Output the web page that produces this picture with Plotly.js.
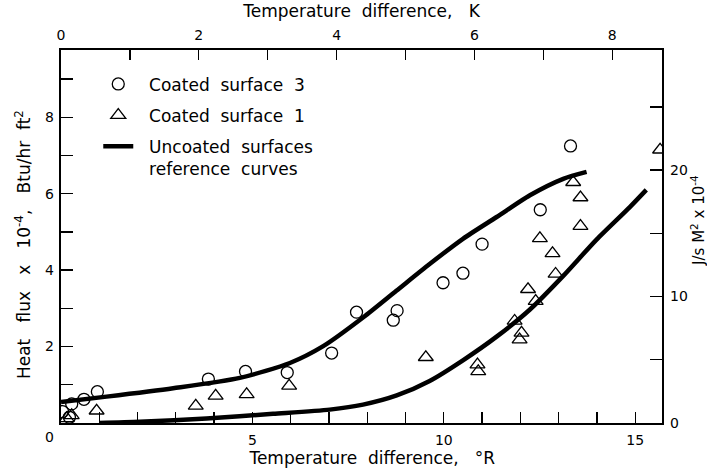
<!DOCTYPE html>
<html>
<head>
<meta charset="utf-8">
<script src="https://cdn.plot.ly/plotly-3.0.1.min.js"></script>
<style>html,body{margin:0;padding:0;background:#fff;}</style>
</head>
<body>
<div id="chart" style="width:707px;height:474px;"></div>
<script>
// Coated surface 3 (circles): temperature difference (°R), heat flux (x10^-4 Btu/hr ft2)
const s3X = [0.04, 0.22, 0.28, 0.60, 0.95, 3.85, 4.82, 5.91, 7.07, 7.72, 8.68, 8.78, 9.98, 10.50, 11.00, 12.52, 13.31];
const s3Y = [0.30, 0.15, 0.50, 0.62, 0.82, 1.15, 1.35, 1.32, 1.83, 2.90, 2.69, 2.94, 3.67, 3.92, 4.68, 5.58, 7.25];
// Coated surface 1 (triangles)
const s1X = [0.15, 0.28, 0.93, 3.52, 4.04, 4.85, 5.96, 9.53, 10.88, 10.90, 11.85, 11.98, 12.03, 12.20, 12.40, 12.51, 12.84, 12.92, 13.38, 13.57, 13.57, 15.65];
const s1Y = [0.12, 0.20, 0.32, 0.45, 0.71, 0.75, 0.97, 1.72, 1.53, 1.35, 2.67, 2.18, 2.36, 3.50, 3.19, 4.83, 4.44, 3.90, 6.30, 5.90, 5.15, 7.15];
// Uncoated surfaces reference curves
const upperX = [0, 1.19, 2.93, 4.67, 5.98, 6.85, 7.89, 8.76, 9.63, 10.50, 11.38, 12.25, 13.12, 13.73];
const upperY = [0.55, 0.69, 0.91, 1.18, 1.57, 2.01, 2.76, 3.46, 4.16, 4.82, 5.39, 5.96, 6.39, 6.57];
const lowerX = [1.0, 2.06, 3.80, 5.54, 7.02, 7.89, 8.77, 9.63, 10.50, 11.38, 12.25, 13.12, 13.99, 14.86, 15.29];
const lowerY = [0.0, 0.03, 0.12, 0.24, 0.35, 0.48, 0.72, 1.10, 1.64, 2.26, 2.97, 3.85, 4.80, 5.65, 6.10];

// Axis ticks
const xTicks = [0,1,2,3,4,5,6,7,8,9,10,11,12,13,14,15];
const xTickText = ['','','','','','5','','','','','10','','','','','15'];
const kTicks = [0,1,2,3,4,5,6,7,8];
const kTickText = ['0','','2','','4','','6','','8'];
const yTicks = [0,1,2,3,4,5,6,7,8,9];
const yTickText = ['','','2','','4','','6','','8',''];
const y2Ticks = [0,5,10,15,20,25];
const y2TickText = ['0','','10','','20',''];

const FONT = 'DejaVu Sans, sans-serif';
const xMax = 15.7;

const refX = upperX.concat([null], lowerX);
const refY = upperY.concat([null], lowerY);

const traces = [
  {x: s3X, y: s3Y, type: 'scatter', mode: 'markers', name: '&nbsp;&nbsp;Coated&nbsp; surface&nbsp; 3',
   legendgroup: 'a', marker: {symbol: 'circle-open', size: 12, color: '#000', line: {width: 1.3, color: '#000'}}},
  {x: s1X, y: s1Y, type: 'scatter', mode: 'markers', name: '&nbsp;&nbsp;Coated&nbsp; surface&nbsp; 1',
   legendgroup: 'b', marker: {symbol: 'triangle-up-open', size: 13, color: '#000', line: {width: 1.3, color: '#000'}}},
  {x: refX, y: refY, type: 'scatter', mode: 'lines', name: '&nbsp;&nbsp;Uncoated&nbsp; surfaces<br>&nbsp;&nbsp;reference&nbsp; curves',
   legendgroup: 'c', connectgaps: false, line: {color: '#000', width: 4.5, shape: 'spline', smoothing: 0.7}},
  {x: [], y: [], xaxis: 'x2', yaxis: 'y2', type: 'scatter', mode: 'markers', showlegend: false, hoverinfo: 'skip'}
];

const axCommon = {
  ticks: 'inside', tickcolor: '#000', tickwidth: 1.3, showline: true, linecolor: '#000', linewidth: 2.2,
  showgrid: false, zeroline: false, tickfont: {family: FONT, size: 14, color: '#000'}, fixedrange: true
};

const layout = {
  width: 707, height: 474,
  margin: {l: 61, r: 45, t: 50, b: 51},
  paper_bgcolor: '#fff', plot_bgcolor: '#fff',
  font: {family: FONT, color: '#000'},
  showlegend: true,
  legend: {x: 0.062, y: 0.956, xanchor: 'left', yanchor: 'top', bgcolor: 'rgba(0,0,0,0)',
    font: {family: FONT, size: 17, color: '#000'}, tracegroupgap: 6, valign: 'top', traceorder: 'grouped'},
  xaxis: Object.assign({}, axCommon, {
    range: [0, xMax], tickmode: 'array', tickvals: xTicks, ticktext: xTickText, ticklen: 11,
    ticklabelstandoff: 3,
    title: {text: '&nbsp;&nbsp;&nbsp;&nbsp;Temperature&nbsp; difference,&nbsp;&nbsp; °R', font: {family: FONT, size: 17, color: '#000'}, standoff: 3}
  }),
  xaxis2: Object.assign({}, axCommon, {
    overlaying: 'x', side: 'top', anchor: 'y', range: [0, xMax / 1.8], tickmode: 'array',
    tickvals: kTicks, ticktext: kTickText, ticklen: 10, ticklabelstandoff: 2,
    title: {text: 'Temperature&nbsp; difference,&nbsp;&nbsp; K', font: {family: FONT, size: 17, color: '#000'}, standoff: 5}
  }),
  yaxis: Object.assign({}, axCommon, {
    range: [0, 9.76], tickmode: 'array', tickvals: yTicks, ticktext: yTickText, ticklen: 12,
    ticklabelstandoff: 2,
    title: {text: 'Heat&nbsp;&nbsp; flux&nbsp;&nbsp; x&nbsp;&nbsp; 10<sup>-4</sup>,&nbsp;&nbsp; Btu/hr&nbsp; ft<sup>2</sup>&nbsp;&nbsp;&nbsp;', font: {family: FONT, size: 17, color: '#000'}, standoff: 10}
  }),
  yaxis2: Object.assign({}, axCommon, {
    overlaying: 'y', side: 'right', anchor: 'x', range: [0, 29.5], tickmode: 'array',
    tickvals: y2Ticks, ticktext: y2TickText, ticklen: 12, ticklabelstandoff: 3
  }),
  annotations: [
    {text: '0', xref: 'paper', yref: 'paper', x: (49 - 61) / 601, y: (423 - 437) / 371,
     showarrow: false, font: {family: FONT, size: 14, color: '#000'}, xanchor: 'center', yanchor: 'middle'},
    {text: 'J/s M<sup>2</sup> x 10<sup>-4</sup>', xref: 'paper', yref: 'paper', x: (698 - 61) / 601, y: (423 - 222) / 371,
     textangle: -90, showarrow: false, font: {family: FONT, size: 15, color: '#000'}, xanchor: 'center', yanchor: 'middle'}
  ]
};

Plotly.newPlot('chart', traces, layout, {displayModeBar: false, staticPlot: true});
</script>
</body>
</html>
